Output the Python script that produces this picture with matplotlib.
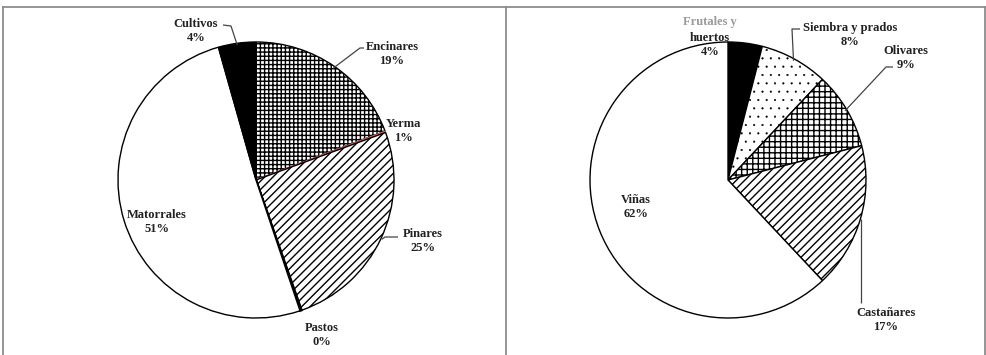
import numpy as np
import matplotlib.pyplot as plt
from matplotlib.lines import Line2D

plt.rcParams['font.family'] = ['Liberation Serif', 'DejaVu Serif']
plt.rcParams['hatch.linewidth'] = 1.0

# left pie: uso del monte
monte_labels = ['Encinares', 'Yerma', 'Pinares', 'Pastos', 'Matorrales', 'Cultivos']
monte_values = [19.3, 0.15, 25.3, 0.2, 50.9, 4.4]
monte_pct = ['19%', '1%', '25%', '0%', '51%', '4%']
monte_hatch = ['++++', '', '////', '', '', '']
monte_face = ['white', '#c06060', 'white', 'black', 'white', 'black']
monte_edge = ['black', '#c06060', 'black', 'black', 'black', 'black']

# right pie: cultivos
cult_labels = ['Frutales y\nhuertos', 'Siembra y prados', 'Olivares', 'Castañares', 'Viñas']
cult_values = [4, 8, 9, 17, 62]
cult_pct = ['4%', '8%', '9%', '17%', '62%']
cult_hatch = ['', '..', '+++', '////', '']
cult_face = ['black', 'white', 'white', 'white', 'white']

W, H = 987, 355
fig = plt.figure(figsize=(9.87, 3.55), dpi=100)

# frame lines
fc = '#8c8c8c'
for seg in [((3, 985), (348, 348)), ((3, 3), (0, 348)), ((506, 506), (0, 348)), ((985, 985), (0, 348))]:
    fig.add_artist(Line2D([x / W for x in seg[0]], [y / H for y in seg[1]], color=fc, lw=1.3))

R = 138
txt = dict(ha='center', va='center', fontsize=9, fontweight='bold', color='#222222', linespacing=1.25)


def make_ax(x0, x1):
    ax = fig.add_axes([x0 / W, 0, (x1 - x0) / W, 1])
    return ax


def anchor(wedge, c, r=R):
    ang = np.deg2rad((wedge.theta1 + wedge.theta2) / 2)
    return c[0] + r * np.cos(ang), c[1] + r * np.sin(ang)


def leader(ax, pts):
    xs, ys = zip(*pts)
    ax.plot(xs, ys, color='#444444', lw=0.9, solid_capstyle='butt')


# ---- left ----
axl = make_ax(0, 493.5)
cl = (256, H - 180)
wl, _ = axl.pie(monte_values, startangle=90, counterclock=False, radius=R, center=cl,
                colors=monte_face, wedgeprops=dict(linewidth=1.0))
for w, h, e in zip(wl, monte_hatch, monte_edge):
    w.set_hatch(h)
    w.set_edgecolor(e)
wl[3].set_linewidth(1.6)
axl.set_xlim(0, 493.5)
axl.set_ylim(0, H)
axl.set_aspect('auto')
axl.axis('off')

lpos = {'Cultivos': (196, 31), 'Encinares': (392, 54), 'Yerma': (403, 131),
        'Pinares': (423, 241), 'Pastos': (322, 335), 'Matorrales': (157, 222)}
for lab, p in zip(monte_labels, monte_pct):
    x, y = lpos[lab]
    axl.text(x, H - y, lab + '\n' + p, **txt)

leader(axl, [anchor(wl[5], cl, R - 2), (231, H - 26), (223, H - 25)])
leader(axl, [anchor(wl[0], cl, R - 2), (360, H - 48), (364, H - 48)])
leader(axl, [anchor(wl[2], cl, R + 1), (385, H - 237), (398, H - 237)])

# ---- right ----
axr = make_ax(493.5, W)
cr = (728 - 493.5, H - 180)
wr, _ = axr.pie(cult_values, startangle=90, counterclock=False, radius=R, center=cr,
                colors=cult_face, wedgeprops=dict(linewidth=1.0, edgecolor='black'))
for w, h in zip(wr, cult_hatch):
    w.set_hatch(h)
if hasattr(wr[1], 'set_hatch_linewidth'):
    wr[1].set_hatch_linewidth(0.3)
axr.set_xlim(0, W - 493.5)
axr.set_ylim(0, H)
axr.set_aspect('auto')
axr.axis('off')

ox = 493.5
rpos = {'Siembra y prados': (850, 35), 'Olivares': (906, 58),
        'Castañares': (886, 320), 'Viñas': (636, 207)}
for lab, p in zip(cult_labels[1:], cult_pct[1:]):
    x, y = rpos[lab]
    axr.text(x - ox, H - y, lab + '\n' + p, **txt)
# frutales label, first line lighter
axr.text(710 - ox, H - 22, 'Frutales y', ha='center', va='center', fontsize=9,
         fontweight='bold', color='#9a9a9a')
axr.text(710 - ox, H - 45, 'huertos\n' + cult_pct[0], **txt)

leader(axr, [anchor(wr[1], cr, R - 2), (792 - ox, H - 29), (800 - ox, H - 29)])
leader(axr, [anchor(wr[2], cr, R - 2), (886 - ox, H - 67), (893 - ox, H - 67)])
sx, sy = anchor(wr[3], cr, R)
leader(axr, [(sx, sy), (sx, H - 303)])

fig.savefig('out.png', dpi=100)
